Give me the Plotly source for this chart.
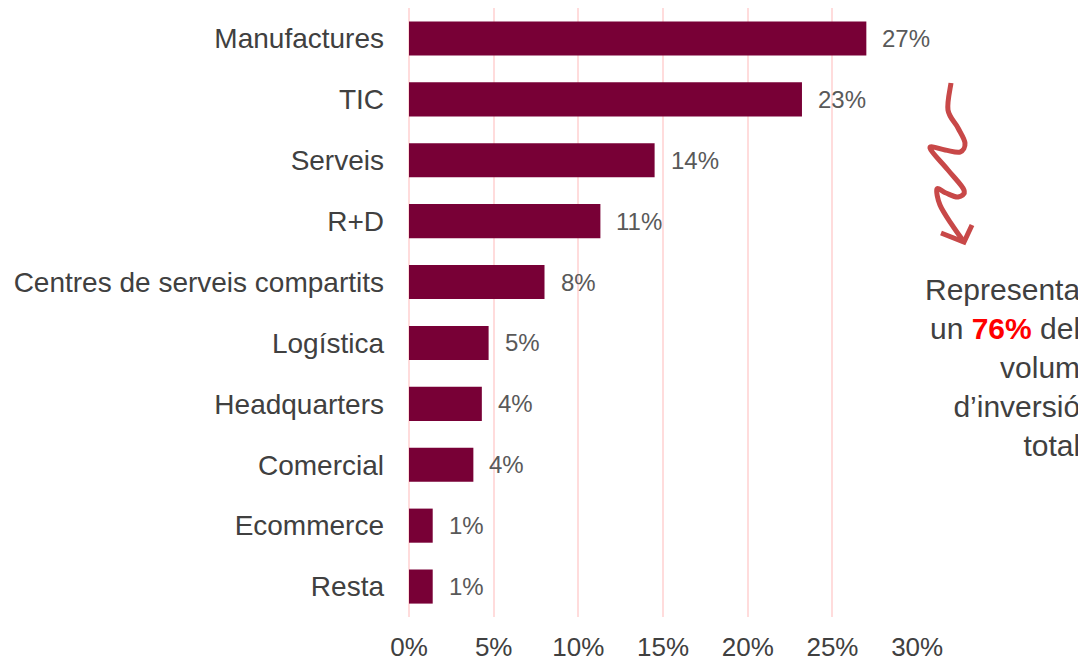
import plotly.graph_objects as go

# data
sectors = ['Manufactures', 'TIC', 'Serveis', 'R+D', 'Centres de serveis compartits',
           'Logística', 'Headquarters', 'Comercial', 'Ecommerce', 'Resta']
share = [27.0, 23.2, 14.5, 11.3, 8.0, 4.7, 4.3, 3.8, 1.4, 1.4]
share_labels = ['27%', '23%', '14%', '11%', '8%', '5%', '4%', '4%', '1%', '1%']
x_ticks = [0, 5, 10, 15, 20, 25, 30]
x_tick_labels = ['0%', '5%', '10%', '15%', '20%', '25%', '30%']

bar_color = '#780036'
grid_color = '#ffdcdc'
font_fam = 'Liberation Sans, Arial, sans-serif'

# page has an 8px body margin, so the figure is a bit smaller than the window
off = 8
W, H = 1086 - off, 663 - off
m_l, m_r, m_t, m_b = 409 - off, 168, 0, 46
plot_w = W - m_l - m_r
plot_h = H - m_t - m_b


def px2paper(px, py):
    # page pixel -> paper coords
    px, py = px - off, py - off
    return (px - m_l) / plot_w, (H - m_b - py) / plot_h


def smooth_path(pts):
    # catmull-rom through the points -> cubic bezier path in paper coords
    p = [px2paper(*q) for q in pts]
    d = 'M %.4f,%.4f' % p[0]
    for i in range(len(p) - 1):
        p0 = p[i - 1] if i > 0 else p[i]
        p1, p2 = p[i], p[i + 1]
        p3 = p[i + 2] if i + 2 < len(p) else p2
        c1 = (p1[0] + (p2[0] - p0[0]) / 6, p1[1] + (p2[1] - p0[1]) / 6)
        c2 = (p2[0] - (p3[0] - p1[0]) / 6, p2[1] - (p3[1] - p1[1]) / 6)
        d += ' C %.4f,%.4f %.4f,%.4f %.4f,%.4f' % (c1 + c2 + p2)
    return d


fig = go.Figure()

fig.add_trace(
    go.Bar(
        x=share,
        y=sectors,
        orientation='h',
        marker=dict(color=bar_color, line=dict(width=0)),
        width=0.56,
        hoverinfo='skip',
    )
)

for s, v, lab in zip(sectors, share, share_labels):
    fig.add_annotation(
        x=v, y=s, text=lab, showarrow=False,
        xanchor='left', xshift=14,
        font=dict(size=24, color='#595959', family=font_fam),
    )

# squiggly arrow (decoration)
squiggle = [(951, 83), (948, 110), (958, 128), (965, 143), (960, 152), (945, 150),
            (930, 148), (948, 170), (964, 190), (958, 197), (946, 193), (937, 189),
            (940, 205), (952, 225), (964, 242)]
fig.add_shape(type='path', xref='paper', yref='paper', path=smooth_path(squiggle),
              line=dict(color='#c84848', width=5))
head = [px2paper(941, 233), px2paper(964, 242), px2paper(972, 225)]
fig.add_shape(type='path', xref='paper', yref='paper',
              path='M %.4f,%.4f L %.4f,%.4f L %.4f,%.4f' % (head[0] + head[1] + head[2]),
              line=dict(color='#c84848', width=5))

tx, ty = px2paper(1082, 367)
fig.add_annotation(
    x=tx, y=ty, xref='paper', yref='paper', showarrow=False,
    xanchor='right', yanchor='middle', align='right',
    text="Representa<br>un <b><span style='color:#ff0000'>76%</span></b> del<br>volum<br>d’inversió<br>total",
    font=dict(size=30, color='#404040', family=font_fam),
)

fig.update_layout(
    width=W,
    height=H,
    plot_bgcolor='white',
    paper_bgcolor='white',
    showlegend=False,
    margin=dict(l=m_l, r=m_r, t=m_t, b=m_b, pad=0),
    font=dict(family=font_fam),
)

fig.update_xaxes(
    range=[0, 30.05],
    tickvals=x_ticks,
    ticktext=x_tick_labels,
    showgrid=True, gridcolor=grid_color, gridwidth=1.5,
    zeroline=True, zerolinecolor=grid_color, zerolinewidth=1.5,
    showline=False, ticks='',
    automargin=False,
    ticklabelstandoff=12,
    tickfont=dict(size=26, color='#404040', family=font_fam),
)
fig.update_yaxes(
    autorange='reversed',
    showgrid=False, showline=False, ticks='',
    automargin=False,
    ticklabelstandoff=24,
    tickfont=dict(size=28, color='#404040', family=font_fam),
)

fig.write_html('out.html')
